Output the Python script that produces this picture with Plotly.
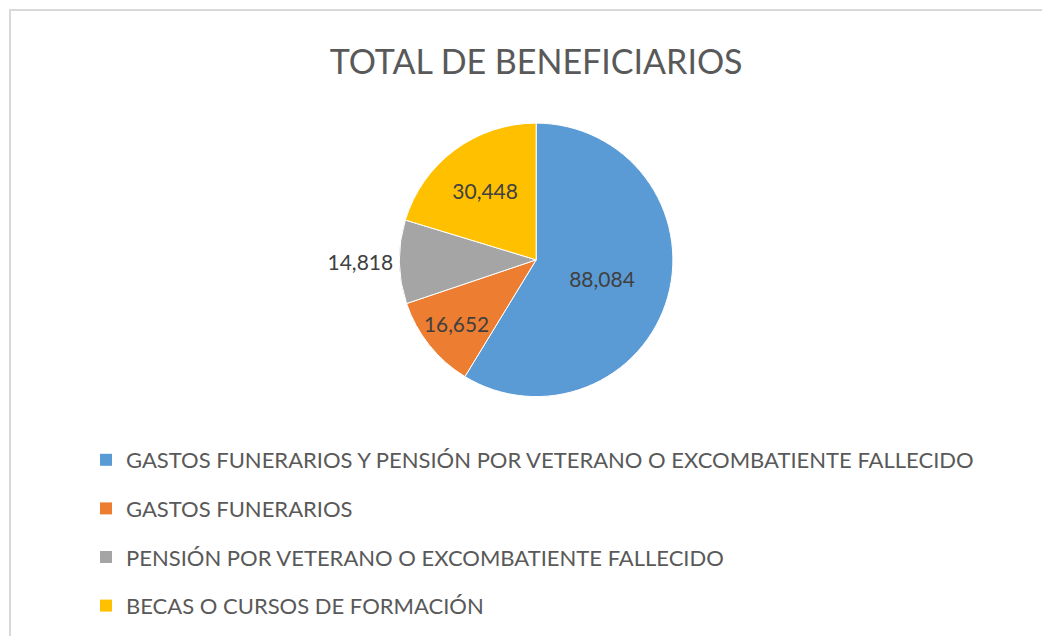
import plotly.graph_objects as go

categories = [
    "GASTOS FUNERARIOS Y PENSIÓN POR VETERANO O EXCOMBATIENTE FALLECIDO",
    "GASTOS FUNERARIOS",
    "PENSIÓN POR VETERANO O EXCOMBATIENTE FALLECIDO",
    "BECAS O CURSOS DE FORMACIÓN",
]
values = [88084, 16652, 14818, 30448]
colors = ["#5B9BD5", "#ED7D31", "#A5A5A5", "#FFC000"]
text_positions = ["inside", "inside", "outside", "inside"]

FONT = "Lato"

fig = go.Figure()
fig.add_trace(go.Pie(
    labels=categories,
    values=values,
    sort=False,
    direction="clockwise",
    rotation=0,
    marker=dict(colors=colors, line=dict(color="white", width=1)),
    texttemplate="%{value:,}",
    textposition=text_positions,
    textfont=dict(family=FONT, size=21, color="#404040"),
    insidetextorientation="horizontal",
    showlegend=False,
    hoverinfo="label+value+percent",
    domain=dict(x=[0.203, 0.803], y=[0.389, 0.819]),
))

# legend entries (one per category) with adjustable spacing
for i, (name, col) in enumerate(zip(categories, colors)):
    fig.add_trace(go.Scatter(
        x=[None], y=[None], mode="markers", name=name,
        marker=dict(symbol="square", size=8, color=col),
        legendgroup=f"g{i}", showlegend=True, hoverinfo="skip",
    ))

fig.update_layout(
    width=1050, height=636,
    margin=dict(l=0, r=0, t=0, b=0, autoexpand=False),
    paper_bgcolor="white", plot_bgcolor="white",
    title=dict(text="TOTAL DE BENEFICIARIOS", x=0.503, xanchor="center",
               y=1 - 54 / 636, yanchor="middle", yref="container",
               font=dict(family=FONT, size=34, color="#595959")),
    xaxis=dict(visible=False), yaxis=dict(visible=False),
    legend=dict(x=0.0743, y=1 - 431 / 636, xanchor="left", yanchor="top",
                font=dict(family=FONT, size=22, color="#595959"),
                tracegroupgap=17, itemsizing="constant", itemwidth=30,
                bgcolor="rgba(0,0,0,0)"),
    shapes=[dict(type="rect", xref="paper", yref="paper",
                 x0=2 / 1050, x1=1.02, y0=-0.05, y1=1 - 2 / 636,
                 line=dict(color="#D9D9D9", width=2), layer="below")],
)

fig.write_html("out.html")
